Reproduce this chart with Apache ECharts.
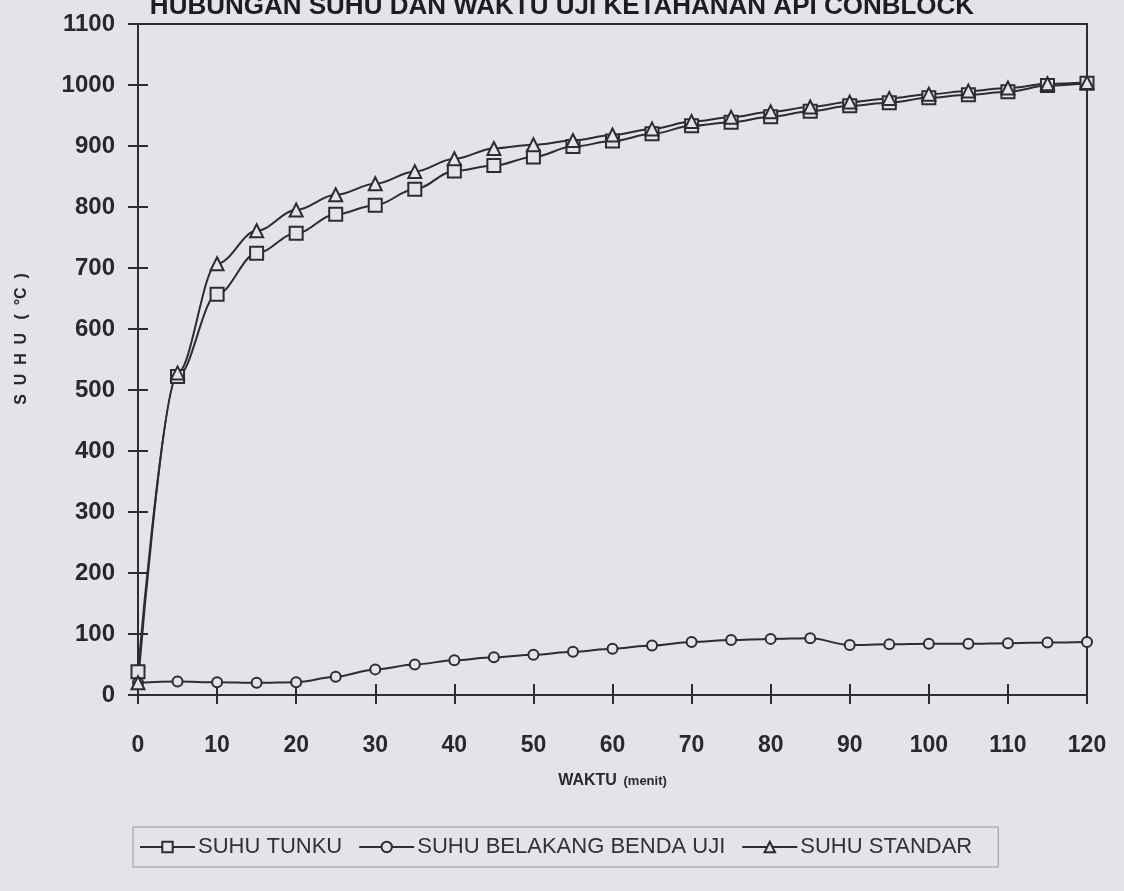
<!DOCTYPE html>
<html>
<head>
<meta charset="utf-8">
<script src="https://cdn.jsdelivr.net/npm/echarts@6/dist/echarts.min.js"></script>
<style>
html,body{margin:0;padding:0;background:#e5e2e8;}
#chart{width:1124px;height:891px;}
</style>
</head>
<body>
<div id="chart"></div>
<script>
var titleText = 'HUBUNGAN SUHU DAN WAKTU UJI KETAHANAN API CONBLOCK';
var yAxisTitle = 'S  U  H  U   (  °C  )';
var waktu = [0,5,10,15,20,25,30,35,40,45,50,55,60,65,70,75,80,85,90,95,100,105,110,115,120];
var suhuTungku = [38,522,657,724,757,788,803,829,859,868,882,899,908,920,933,939,948,957,966,971,979,984,989,999,1003];
var suhuBelakang = [20,22,21,20,21,30,42,50,57,62,66,71,76,81,87,90,92,93,82,83,84,84,85,86,87];
var suhuStandar = [20,528,707,761,795,820,838,858,879,896,902,909,918,928,940,947,956,964,972,978,985,990,995,1002,1004];
var seriesNames = ['SUHU TUNKU','SUHU BELAKANG BENDA UJI','SUHU STANDAR'];
var xTicks = {min:0, max:120, interval:10};
var yTicks = {min:0, max:1100, interval:100};

function pairs(vals){ return waktu.map(function(t,i){ return [t, vals[i]]; }); }

var lineColor = '#2e2c30';
var font = '"Liberation Sans",Arial,sans-serif';

var chart = echarts.init(document.getElementById('chart'));
function mkSeries(name, vals, symbol, size){
  return {
    name: name, type: 'line', data: pairs(vals),
    smooth: 0.35, smoothMonotone: 'x',
    symbol: symbol, symbolSize: size,
    lineStyle: {color: lineColor, width: 2},
    itemStyle: {color: '#e5e2e8', borderColor: lineColor, borderWidth: 2},
    z: 3
  };
}
var option = {
  backgroundColor: '#e5e2e8',
  animation: false,
  title: {
    text: titleText, left: 'center', top: -11,
    textStyle: {fontFamily: font, fontWeight: 'bold', fontSize: 26, color: '#1e1c20'}
  },
  graphic: [{
    type: 'text', x: 22, y: 339, rotation: Math.PI / 2,
    style: {text: yAxisTitle, align: 'center', verticalAlign: 'middle',
      font: 'bold 16px "Liberation Sans", Arial, sans-serif', fill: '#2a282c'}
  }],
  grid: {left: 138, right: 37, top: 24, bottom: 196, show: true, borderColor: lineColor, borderWidth: 2, backgroundColor: 'transparent'},
  legend: {
    bottom: 24, left: 133,
    data: seriesNames,
    itemWidth: 55, itemHeight: 13, itemGap: 16,
    padding: [9, 26, 9, 6],
    borderColor: '#9a979c', borderWidth: 1,
    textStyle: {fontFamily: font, fontSize: 22, color: '#333135', padding: [0, 0, 0, -2]}
  },
  xAxis: [{
    type: 'value', min: xTicks.min, max: xTicks.max, interval: xTicks.interval,
    name: '{a|WAKTU}  {b|(menit)}', nameLocation: 'middle', nameGap: 78,
    nameTextStyle: {rich: {
      a: {fontFamily: font, fontWeight: 'bold', fontSize: 16, color: '#2a282c'},
      b: {fontFamily: font, fontWeight: 'bold', fontSize: 13, color: '#2a282c'}
    }},
    axisLine: {onZero: false, lineStyle: {color: lineColor, width: 2}},
    axisTick: {show: true, inside: false, length: 9, lineStyle: {color: lineColor, width: 2}},
    splitLine: {show: false},
    axisLabel: {margin: 39, fontFamily: font, fontWeight: 'bold', fontSize: 23, color: '#2a282c'}
  },{
    type: 'value', min: xTicks.min, max: xTicks.max, interval: xTicks.interval,
    position: 'bottom',
    axisLine: {show: false},
    axisTick: {show: true, inside: true, length: 11, lineStyle: {color: lineColor, width: 2}},
    axisLabel: {show: false}, splitLine: {show: false}
  }],
  yAxis: [{
    type: 'value', min: yTicks.min, max: yTicks.max, interval: yTicks.interval,
    axisLine: {onZero: false, lineStyle: {color: lineColor, width: 2}},
    axisTick: {show: true, inside: false, length: 10, lineStyle: {color: lineColor, width: 2}},
    splitLine: {show: false},
    axisLabel: {margin: 23, fontFamily: font, fontWeight: 'bold', fontSize: 24, color: '#2a282c',
      formatter: function(v){ return String(v); }}
  },{
    type: 'value', min: yTicks.min, max: yTicks.max, interval: yTicks.interval,
    position: 'left',
    axisLine: {show: false},
    axisTick: {show: true, inside: true, length: 10, lineStyle: {color: lineColor, width: 2}},
    axisLabel: {show: false}, splitLine: {show: false}
  }],
  series: [
    mkSeries(seriesNames[0], suhuTungku, 'rect', 13),
    mkSeries(seriesNames[1], suhuBelakang, 'circle', 10),
    mkSeries(seriesNames[2], suhuStandar, 'triangle', 13)
  ]
};
chart.setOption(option);
</script>
</body>
</html>
